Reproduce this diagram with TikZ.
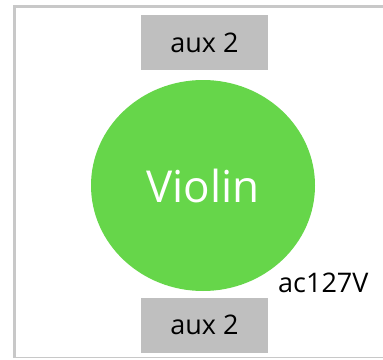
\documentclass[tikz,border=0pt]{standalone}
\usepackage{fontspec}
\setmainfont{Open Sans}
\usepackage{tikz}
\usetikzlibrary{shapes.geometric}
\definecolor{violingreen}{RGB}{102,214,74}
\definecolor{auxgray}{RGB}{191,191,191}
\definecolor{framegray}{RGB}{200,200,200}
\tikzstyle{auxbox} = [rectangle, fill=auxgray, minimum width=127pt, minimum height=55pt, inner sep=0pt, text centered, font=\fontsize{27}{30}\selectfont]
\tikzstyle{instrument} = [ellipse, fill=violingreen, minimum width=224pt, minimum height=211pt, inner sep=0pt, text=white, font=\fontsize{44}{48}\selectfont]
\tikzstyle{supply} = [inner sep=0pt, anchor=base west, font=\fontsize{27}{30}\selectfont]

\begin{document}
\begin{tikzpicture}[x=1pt,y=-1pt]
    \useasboundingbox (0,0) rectangle (383,359);
    % frame
    \draw[framegray, line width=3pt] (14.5,358) -- (14.5,6.5) -- (383,6.5);
    \draw[framegray, line width=1.2pt] (13,357.6) -- (383,357.6);

    \node[instrument] (violin) at (203,185.5) {Violin};
    \node[auxbox] (auxtop) at (204.5,42.5) {aux 2};
    \node[auxbox] (auxbottom) at (204.5,325) {aux 2};
    \node[supply] (power) at (278,292.3) {ac127V};
\end{tikzpicture}
\end{document}
